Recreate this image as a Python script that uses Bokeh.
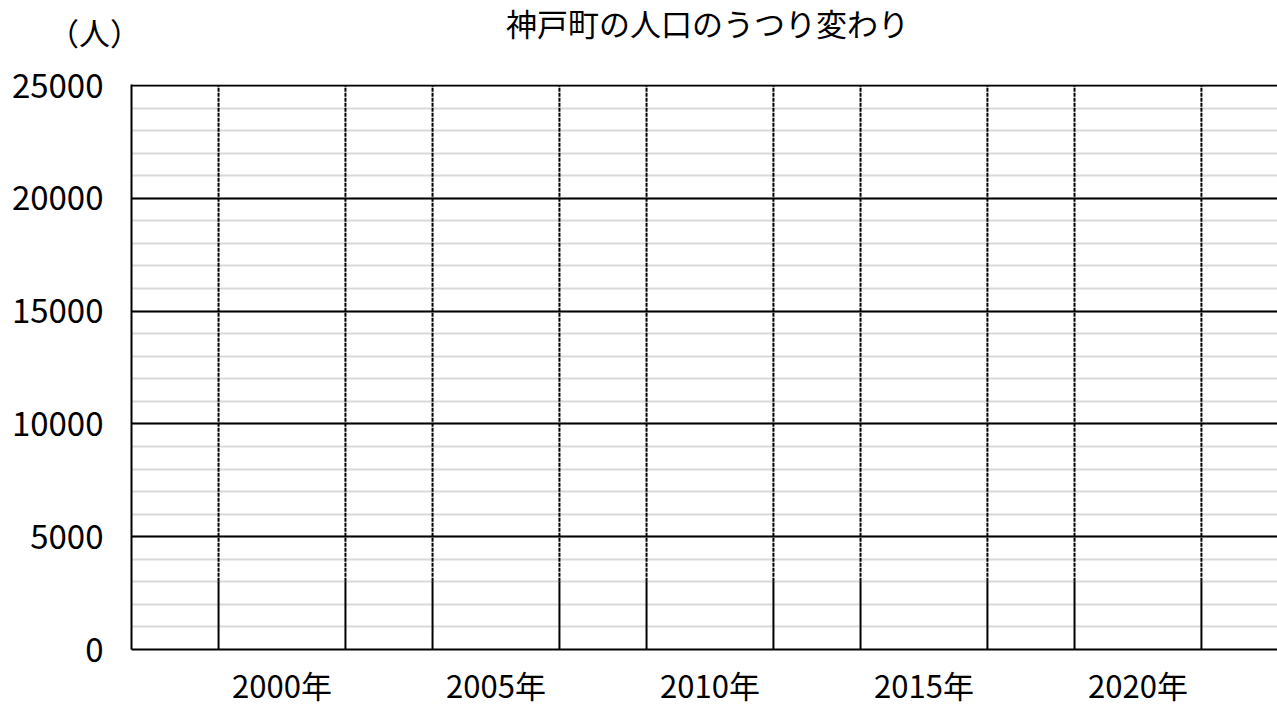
from bokeh.plotting import figure
from bokeh.layouts import column
from bokeh.models import Range1d, FixedTicker, SingleIntervalTicker
from bokeh.core.properties import value
from bokeh.embed import file_html
from bokeh.resources import INLINE

# ---- data ----
title_text = "神戸町の人口のうつり変わり"
unit_label = "（人）"
categories = ["2000年", "2005年", "2010年", "2015年", "2020年"]
solid_part = [3000, 3000, 3000, 3000, 3000]   # solid lower portion of each empty bar frame
axis_max = 25000
major_step = 5000
minor_per_major = 5
bar_width = 0.593

FONT = "Noto Sans CJK JP"
W = 1277
HEAD_H = 58
MAIN_H = 709 - HEAD_H

# ---- header (titles) ----
hf = figure(width=W, height=HEAD_H, output_backend="svg", toolbar_location=None,
            x_range=Range1d(0, W), y_range=Range1d(HEAD_H, 0),
            x_axis_type=None, y_axis_type=None, min_border=0)
if "frame_align" in hf.properties():
    hf.frame_align = False
hf.outline_line_color = None
hf.background_fill_color = "white"
hf.border_fill_color = "white"
hf.text(x=[707], y=[22], text=[title_text], text_font=value(FONT),
        text_font_size="31px", text_align="center", text_baseline="middle",
        text_color="black")
hf.text(x=[94], y=[31], text=[unit_label], text_font=value(FONT),
        text_font_size="31px", text_align="center", text_baseline="middle",
        text_color="black")

# ---- main chart ----
xs = list(range(len(categories)))
edges_x = [i - bar_width / 2 for i in xs] + [i + bar_width / 2 for i in xs]
edges_solid = solid_part + solid_part
edges_top = [axis_max] * len(edges_x)
edges_zero = [0] * len(edges_x)

p = figure(width=W, height=MAIN_H, output_backend="svg", toolbar_location=None,
           x_range=Range1d(-0.7033, 4.652), y_range=Range1d(0, axis_max * 1.0018),
           min_border_left=131, min_border_right=0, min_border_top=84 - HEAD_H,
           min_border_bottom=60)
if "frame_align" in p.properties():
    p.frame_align = False
p.outline_line_color = None
p.background_fill_color = "white"
p.border_fill_color = "white"

yt = SingleIntervalTicker(interval=major_step, num_minor_ticks=minor_per_major)
p.yaxis.ticker = yt
p.ygrid.ticker = yt
p.ygrid.grid_line_color = "black"
p.ygrid.grid_line_width = 2
p.ygrid.minor_grid_line_color = "#d9d9d9"
p.ygrid.minor_grid_line_width = 2
p.xgrid.grid_line_color = None

p.segment(x0=edges_x, y0=edges_zero, x1=edges_x, y1=edges_solid,
          line_color="black", line_width=2)
p.segment(x0=edges_x, y0=edges_solid, x1=edges_x, y1=edges_top,
          line_color="black", line_width=2, line_dash="4 1")

p.xaxis.ticker = FixedTicker(ticks=xs)
p.xaxis.major_label_overrides = {i: c for i, c in zip(xs, categories)}
for ax in (p.xaxis, p.yaxis):
    ax.axis_line_color = "black"
    ax.axis_line_width = 2
    ax.major_tick_line_color = None
    ax.minor_tick_line_color = None
    ax.major_tick_out = 0
    ax.major_tick_in = 0
    ax.major_label_text_font = FONT
    ax.major_label_text_color = "black"
p.yaxis.major_label_text_font_size = "33px"
p.xaxis.major_label_text_font_size = "31px"
p.yaxis.major_label_standoff = 24
p.xaxis.major_label_standoff = 12

layout = column(hf, p)
open("out.html", "w").write(file_html(layout, INLINE))
